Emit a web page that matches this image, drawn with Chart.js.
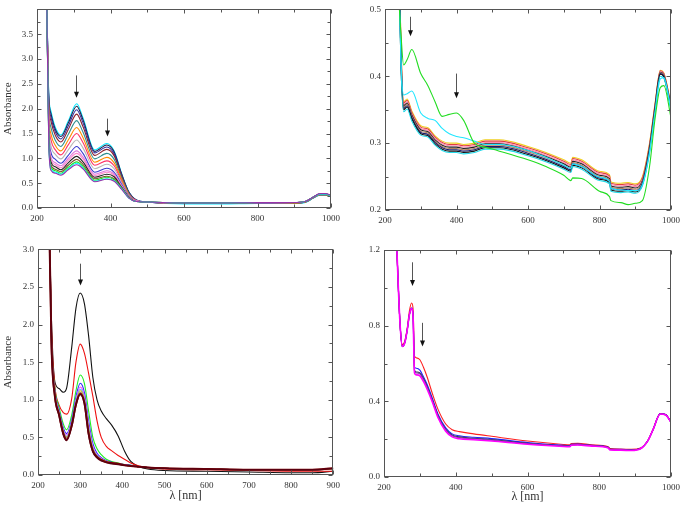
<!DOCTYPE html>
<html><head><meta charset="utf-8">
<script src="https://cdn.jsdelivr.net/npm/chart.js@4/dist/chart.umd.min.js"></script>
<style>
html,body{margin:0;padding:0;background:#fff;}
body{width:685px;height:512px;position:relative;overflow:hidden;}
canvas{position:absolute;}
</style></head><body>
<canvas id="c1" width="345" height="228" style="left:0;top:0"></canvas>
<canvas id="c2" width="343" height="228" style="left:342px;top:0"></canvas>
<canvas id="c3" width="345" height="272" style="left:0;top:240px"></canvas>
<canvas id="c4" width="343" height="272" style="left:342px;top:240px"></canvas>
<script>
// ---------- Panel 1 (top-left) ----------
const wl1 = [226, 232, 238, 250, 265, 285, 308, 325, 357, 390, 410, 430, 450, 470, 500, 600, 700, 800, 900, 930, 950, 970, 985, 1000];
const p1Series = [
  [4.5, 2.30, 1.95, 1.62, 1.47, 1.75, 2.10, 1.82, 1.17, 1.30, 1.15, 0.70, 0.32, 0.16, 0.12, 0.08, 0.08, 0.09, 0.09, 0.11, 0.19, 0.26, 0.26, 0.23],
  [4.5, 2.26, 1.90, 1.58, 1.44, 1.71, 2.05, 1.78, 1.14, 1.27, 1.13, 0.69, 0.32, 0.16, 0.12, 0.09, 0.09, 0.10, 0.10, 0.12, 0.20, 0.27, 0.27, 0.24],
  [4.5, 2.20, 1.83, 1.53, 1.39, 1.65, 1.98, 1.72, 1.11, 1.23, 1.09, 0.67, 0.31, 0.16, 0.12, 0.09, 0.09, 0.10, 0.10, 0.12, 0.20, 0.27, 0.27, 0.24],
  [4.5, 2.13, 1.75, 1.46, 1.33, 1.58, 1.89, 1.64, 1.06, 1.18, 1.05, 0.65, 0.30, 0.15, 0.12, 0.09, 0.09, 0.10, 0.10, 0.12, 0.20, 0.27, 0.27, 0.24],
  [4.5, 2.02, 1.62, 1.36, 1.24, 1.48, 1.76, 1.53, 0.99, 1.10, 0.98, 0.61, 0.29, 0.15, 0.12, 0.09, 0.09, 0.10, 0.10, 0.12, 0.20, 0.27, 0.27, 0.24],
  [4.5, 1.91, 1.49, 1.26, 1.15, 1.37, 1.62, 1.42, 0.92, 1.02, 0.91, 0.58, 0.27, 0.15, 0.12, 0.10, 0.10, 0.10, 0.10, 0.12, 0.20, 0.27, 0.27, 0.24],
  [4.5, 1.81, 1.37, 1.17, 1.07, 1.27, 1.50, 1.32, 0.86, 0.95, 0.85, 0.54, 0.26, 0.15, 0.12, 0.10, 0.10, 0.10, 0.11, 0.13, 0.21, 0.28, 0.28, 0.25],
  [4.5, 1.71, 1.25, 1.08, 0.99, 1.17, 1.37, 1.21, 0.79, 0.88, 0.79, 0.51, 0.25, 0.14, 0.12, 0.10, 0.10, 0.10, 0.11, 0.13, 0.21, 0.28, 0.28, 0.25],
  [4.5, 1.60, 1.12, 0.98, 0.90, 1.06, 1.24, 1.10, 0.72, 0.80, 0.72, 0.48, 0.24, 0.14, 0.12, 0.10, 0.10, 0.10, 0.11, 0.13, 0.21, 0.28, 0.28, 0.25],
  [4.5, 1.53, 1.03, 0.91, 0.85, 1.00, 1.15, 1.03, 0.68, 0.75, 0.68, 0.45, 0.23, 0.14, 0.12, 0.10, 0.10, 0.11, 0.11, 0.13, 0.21, 0.28, 0.28, 0.25],
  [4.5, 1.49, 0.99, 0.87, 0.81, 0.96, 1.10, 0.99, 0.65, 0.72, 0.66, 0.44, 0.22, 0.14, 0.12, 0.10, 0.10, 0.11, 0.11, 0.13, 0.21, 0.28, 0.28, 0.25],
  [4.5, 1.44, 0.93, 0.83, 0.77, 0.91, 1.04, 0.93, 0.62, 0.68, 0.63, 0.42, 0.22, 0.13, 0.12, 0.10, 0.10, 0.11, 0.11, 0.13, 0.21, 0.28, 0.28, 0.25],
  [4.5, 1.39, 0.87, 0.78, 0.73, 0.86, 0.98, 0.88, 0.59, 0.64, 0.59, 0.41, 0.21, 0.13, 0.12, 0.10, 0.10, 0.11, 0.11, 0.13, 0.21, 0.28, 0.28, 0.25],
  [4.5, 1.35, 0.82, 0.75, 0.70, 0.82, 0.93, 0.84, 0.56, 0.62, 0.57, 0.40, 0.21, 0.13, 0.12, 0.10, 0.10, 0.11, 0.11, 0.13, 0.21, 0.28, 0.28, 0.25],
  [4.5, 1.32, 0.78, 0.72, 0.68, 0.79, 0.90, 0.81, 0.54, 0.59, 0.55, 0.39, 0.20, 0.13, 0.12, 0.10, 0.10, 0.11, 0.11, 0.13, 0.21, 0.28, 0.28, 0.25],
  [4.5, 1.30, 0.76, 0.70, 0.66, 0.77, 0.87, 0.79, 0.53, 0.58, 0.54, 0.38, 0.20, 0.13, 0.12, 0.10, 0.10, 0.11, 0.11, 0.13, 0.21, 0.29, 0.29, 0.26]
];
const p1Colors = ['#00e8ff', '#202048', '#3030a0', '#8b2030', '#2f8f8f', '#ff8c00', '#ff3366', '#b8b8b8', '#3a3ad0', '#dd77dd', '#ff88cc', '#222222', '#7a5230', '#22dd22', '#00ffff', '#9933aa'];
const arrowX1 = [307, 391], arrowFrom1 = [2.67, 1.80], arrowTo1 = [2.22, 1.44];

// ---------- Panel 2 (top-right) ----------
const wl2 = [238, 245, 252, 262, 275, 300, 320, 340, 360, 380, 400, 420, 450, 480, 520, 600, 650, 700, 720, 725, 750, 800, 828, 832, 860, 880, 900, 920, 940, 955, 970, 980, 1000];
const p2Green = [0.52, 0.46, 0.417, 0.425, 0.440, 0.404, 0.386, 0.362, 0.340, 0.343, 0.345, 0.334, 0.300, 0.294, 0.288, 0.275, 0.265, 0.252, 0.244, 0.248, 0.247, 0.228, 0.220, 0.214, 0.211, 0.208, 0.210, 0.214, 0.265, 0.335, 0.383, 0.386, 0.338];
const p2Cyan = [0.56, 0.42, 0.372, 0.374, 0.378, 0.345, 0.337, 0.334, 0.322, 0.314, 0.310, 0.308, 0.303, 0.298, 0.298, 0.289, 0.279, 0.267, 0.262, 0.269, 0.265, 0.249, 0.243, 0.233, 0.230, 0.229, 0.229, 0.238, 0.285, 0.343, 0.396, 0.398, 0.350];
const p2Bundle = [
  [0.62, 0.44, 0.362, 0.366, 0.348, 0.326, 0.323, 0.311, 0.303, 0.300, 0.300, 0.298, 0.300, 0.305, 0.305, 0.295, 0.286, 0.275, 0.270, 0.279, 0.275, 0.258, 0.253, 0.242, 0.240, 0.241, 0.239, 0.250, 0.300, 0.358, 0.409, 0.405, 0.358],
  [0.61, 0.44, 0.360, 0.364, 0.346, 0.324, 0.321, 0.309, 0.301, 0.298, 0.298, 0.296, 0.298, 0.303, 0.303, 0.293, 0.284, 0.273, 0.268, 0.277, 0.273, 0.256, 0.251, 0.240, 0.238, 0.239, 0.237, 0.248, 0.298, 0.356, 0.408, 0.404, 0.357],
  [0.60, 0.43, 0.358, 0.362, 0.344, 0.322, 0.319, 0.307, 0.299, 0.296, 0.296, 0.294, 0.296, 0.301, 0.301, 0.291, 0.282, 0.271, 0.266, 0.275, 0.271, 0.254, 0.249, 0.238, 0.236, 0.237, 0.235, 0.246, 0.296, 0.355, 0.407, 0.403, 0.356],
  [0.60, 0.43, 0.356, 0.360, 0.342, 0.320, 0.317, 0.305, 0.297, 0.294, 0.294, 0.292, 0.294, 0.299, 0.299, 0.289, 0.280, 0.269, 0.264, 0.273, 0.269, 0.252, 0.247, 0.236, 0.234, 0.235, 0.233, 0.244, 0.295, 0.354, 0.406, 0.402, 0.355],
  [0.59, 0.42, 0.354, 0.358, 0.340, 0.318, 0.315, 0.303, 0.295, 0.292, 0.292, 0.290, 0.292, 0.297, 0.297, 0.287, 0.278, 0.267, 0.262, 0.271, 0.267, 0.250, 0.245, 0.234, 0.232, 0.233, 0.231, 0.242, 0.293, 0.352, 0.405, 0.401, 0.354],
  [0.59, 0.42, 0.352, 0.356, 0.338, 0.316, 0.313, 0.301, 0.293, 0.290, 0.290, 0.288, 0.290, 0.295, 0.295, 0.285, 0.276, 0.265, 0.260, 0.269, 0.265, 0.248, 0.243, 0.232, 0.230, 0.231, 0.229, 0.240, 0.291, 0.350, 0.404, 0.400, 0.353],
  [0.58, 0.41, 0.350, 0.354, 0.336, 0.314, 0.311, 0.299, 0.291, 0.288, 0.288, 0.286, 0.288, 0.293, 0.293, 0.283, 0.274, 0.263, 0.258, 0.267, 0.263, 0.246, 0.241, 0.230, 0.228, 0.229, 0.227, 0.238, 0.289, 0.348, 0.403, 0.399, 0.352],
  [0.58, 0.41, 0.347, 0.351, 0.333, 0.312, 0.309, 0.297, 0.289, 0.286, 0.286, 0.284, 0.286, 0.291, 0.291, 0.281, 0.272, 0.261, 0.256, 0.265, 0.261, 0.244, 0.239, 0.228, 0.226, 0.227, 0.225, 0.236, 0.287, 0.346, 0.400, 0.397, 0.350]
];
const p2BundleColors = ['#f0d020', '#e04040', '#ff88b0', '#222222', '#b08060', '#1a1a70', '#111111', '#22d8e8'];
const arrowX2 = [271, 398], arrowFrom2 = [0.489, 0.404], arrowTo2 = [0.46, 0.367];

// ---------- Panel 3 (bottom-left) ----------
const wl3 = [226, 232, 240, 250, 260, 268, 280, 290, 300, 310, 320, 330, 340, 350, 362, 375, 390, 405, 420, 440, 460, 500, 600, 700, 800, 850, 900];
const p3Series = [
  [3.6, 2.05, 1.24, 1.15, 1.10, 1.16, 1.70, 2.22, 2.42, 2.28, 1.85, 1.30, 1.00, 0.85, 0.75, 0.66, 0.52, 0.32, 0.18, 0.11, 0.08, 0.06, 0.05, 0.04, 0.03, 0.03, 0.05],
  [3.6, 1.92, 1.18, 0.93, 0.83, 0.81, 1.02, 1.50, 1.74, 1.62, 1.35, 1.05, 0.72, 0.50, 0.38, 0.32, 0.26, 0.21, 0.16, 0.12, 0.10, 0.08, 0.07, 0.06, 0.05, 0.05, 0.05],
  [3.6, 1.80, 1.15, 0.90, 0.68, 0.60, 0.80, 1.12, 1.33, 1.22, 0.85, 0.50, 0.35, 0.27, 0.21, 0.18, 0.16, 0.14, 0.13, 0.11, 0.10, 0.09, 0.08, 0.07, 0.07, 0.07, 0.08],
  [3.6, 1.78, 1.12, 0.86, 0.63, 0.55, 0.74, 1.04, 1.22, 1.10, 0.72, 0.42, 0.29, 0.23, 0.19, 0.17, 0.15, 0.14, 0.13, 0.11, 0.10, 0.09, 0.08, 0.07, 0.07, 0.07, 0.08],
  [3.6, 1.76, 1.10, 0.84, 0.60, 0.53, 0.71, 1.00, 1.17, 1.05, 0.67, 0.38, 0.27, 0.22, 0.18, 0.16, 0.15, 0.14, 0.12, 0.11, 0.10, 0.09, 0.08, 0.07, 0.07, 0.07, 0.08],
  [3.6, 1.75, 1.09, 0.83, 0.59, 0.51, 0.70, 0.98, 1.14, 1.02, 0.64, 0.36, 0.26, 0.21, 0.18, 0.16, 0.15, 0.13, 0.12, 0.11, 0.10, 0.09, 0.08, 0.07, 0.07, 0.07, 0.08],
  [3.6, 1.74, 1.08, 0.82, 0.58, 0.50, 0.68, 0.96, 1.12, 1.00, 0.61, 0.35, 0.25, 0.21, 0.18, 0.16, 0.15, 0.13, 0.12, 0.11, 0.10, 0.09, 0.08, 0.07, 0.07, 0.07, 0.08],
  [3.6, 1.73, 1.07, 0.81, 0.57, 0.49, 0.67, 0.95, 1.10, 0.98, 0.58, 0.34, 0.25, 0.20, 0.17, 0.16, 0.15, 0.13, 0.12, 0.11, 0.10, 0.09, 0.08, 0.07, 0.07, 0.07, 0.08],
  [3.6, 1.72, 1.05, 0.80, 0.55, 0.47, 0.66, 0.94, 1.08, 0.96, 0.55, 0.32, 0.24, 0.20, 0.17, 0.16, 0.15, 0.13, 0.12, 0.11, 0.10, 0.09, 0.08, 0.07, 0.07, 0.07, 0.09],
  [3.6, 1.71, 1.04, 0.79, 0.54, 0.46, 0.65, 0.93, 1.07, 0.95, 0.54, 0.31, 0.23, 0.19, 0.17, 0.15, 0.14, 0.13, 0.12, 0.11, 0.10, 0.09, 0.08, 0.07, 0.07, 0.07, 0.09]
];
const p3Colors = ['#111111', '#ee1111', '#22ee22', '#2a2aff', '#ff44ff', '#33ccff', '#ffaa00', '#888888', '#800000', '#5a0010'];
const arrowX3 = [299], arrowFrom3 = [2.81], arrowTo3 = [2.52];

// ---------- Panel 4 (bottom-right) ----------
const wl4 = [234, 240, 245, 251, 258, 265, 271, 277, 281, 285, 290, 300, 310, 320, 335, 350, 372, 390, 410, 450, 500, 600, 700, 718, 722, 740, 780, 825, 830, 860, 890, 915, 935, 950, 970, 985, 1000];
const p4Series = [
  [1.30, 1.00, 0.80, 0.70, 0.72, 0.79, 0.88, 0.92, 0.89, 0.64, 0.63, 0.62, 0.58, 0.53, 0.44, 0.36, 0.28, 0.25, 0.24, 0.228, 0.215, 0.190, 0.172, 0.170, 0.177, 0.178, 0.170, 0.160, 0.150, 0.148, 0.146, 0.153, 0.192, 0.252, 0.336, 0.331, 0.292],
  [1.30, 1.00, 0.80, 0.69, 0.71, 0.78, 0.86, 0.895, 0.86, 0.58, 0.575, 0.565, 0.53, 0.49, 0.415, 0.335, 0.26, 0.228, 0.218, 0.210, 0.203, 0.182, 0.167, 0.166, 0.173, 0.174, 0.167, 0.157, 0.147, 0.146, 0.144, 0.151, 0.191, 0.251, 0.335, 0.330, 0.291],
  [1.30, 1.00, 0.80, 0.69, 0.71, 0.78, 0.86, 0.89, 0.85, 0.565, 0.555, 0.55, 0.52, 0.48, 0.405, 0.328, 0.252, 0.222, 0.212, 0.205, 0.198, 0.178, 0.165, 0.164, 0.171, 0.172, 0.166, 0.156, 0.146, 0.145, 0.143, 0.150, 0.190, 0.250, 0.334, 0.329, 0.290],
  [1.30, 1.00, 0.80, 0.69, 0.71, 0.78, 0.86, 0.89, 0.85, 0.56, 0.55, 0.545, 0.515, 0.475, 0.402, 0.324, 0.248, 0.218, 0.208, 0.202, 0.195, 0.176, 0.164, 0.163, 0.170, 0.171, 0.165, 0.155, 0.145, 0.144, 0.142, 0.150, 0.190, 0.250, 0.333, 0.328, 0.290],
  [1.30, 1.00, 0.80, 0.69, 0.71, 0.78, 0.86, 0.89, 0.85, 0.55, 0.54, 0.535, 0.505, 0.465, 0.395, 0.316, 0.242, 0.212, 0.202, 0.197, 0.190, 0.173, 0.161, 0.160, 0.168, 0.169, 0.163, 0.153, 0.143, 0.142, 0.140, 0.149, 0.190, 0.250, 0.333, 0.328, 0.290]
];
const p4Colors = ['#ff2020', '#2020ff', '#333355', '#7a3aa0', '#ff00ff'];
const arrowX4 = [277.6, 306], arrowFrom4 = [1.135, 0.815], arrowTo4 = [1.01, 0.69];

// ---------- drawing ----------
const FONT = "'Liberation Serif', 'Times New Roman', serif";
const near = (v, m) => Math.abs(v / m - Math.round(v / m)) < 1e-6;

function framePlugin(ax, af, at) {
  return {
    id: 'frame',
    afterDatasetsDraw(chart) {
      const {ctx, chartArea: a, scales: {x, y}} = chart;
      ctx.save();
      ctx.strokeStyle = '#555';
      ctx.lineWidth = 1;
      const L = Math.round(a.left) + 0.5, R = Math.round(a.right) - 0.5;
      const T = Math.round(a.top) + 0.5, B = Math.round(a.bottom) - 0.5;
      ctx.strokeRect(L, T, R - L, B - T);
      ctx.beginPath();
      x.ticks.forEach(t => {
        const p = Math.round(x.getPixelForValue(t.value)) + 0.5;
        const len = t.label ? 4 : 3;
        ctx.moveTo(p, B); ctx.lineTo(p, B - len);
        ctx.moveTo(p, T); ctx.lineTo(p, T + len);
      });
      y.ticks.forEach(t => {
        const p = Math.round(y.getPixelForValue(t.value)) + 0.5;
        const len = t.label ? 4 : 3;
        ctx.moveTo(L, p); ctx.lineTo(L + len, p);
        ctx.moveTo(R, p); ctx.lineTo(R - len, p);
      });
      ctx.stroke();
      ax.forEach((v, i) => {
        const px = Math.round(x.getPixelForValue(v)) + 0.5;
        const y1 = y.getPixelForValue(af[i]);
        const y2 = y.getPixelForValue(at[i]);
        ctx.strokeStyle = '#555';
        ctx.beginPath(); ctx.moveTo(px, y1); ctx.lineTo(px, y2 - 5); ctx.stroke();
        ctx.fillStyle = '#111';
        ctx.beginPath(); ctx.moveTo(px - 2.5, y2 - 6); ctx.lineTo(px + 2.5, y2 - 6); ctx.lineTo(px, y2); ctx.closePath(); ctx.fill();
      });
      ctx.restore();
    }
  };
}

function makeChart(id, cfg) {
  const n = cfg.series.length;
  const datasets = cfg.series.map((s, i) => ({
    data: cfg.wl.map((w, j) => ({x: w, y: s[j]})),
    borderColor: cfg.colors[i],
    borderWidth: (cfg.widths && cfg.widths[i]) || 1.1,
    pointRadius: 0,
    fill: false,
    order: n - i,
    cubicInterpolationMode: 'monotone'
  }));
  const tickFont = {family: FONT, size: 9};
  new Chart(document.getElementById(id), {
    type: 'line',
    data: {datasets},
    options: {
      responsive: false,
      animation: false,
      events: [],
      layout: {padding: cfg.pad},
      plugins: {legend: {display: false}, tooltip: {enabled: false}},
      scales: {
        x: {
          type: 'linear', min: cfg.xMin, max: cfg.xMax,
          grid: {display: false, drawTicks: false}, border: {display: false},
          ticks: {stepSize: cfg.xStep, autoSkip: false, maxRotation: 0, padding: 5, font: tickFont, color: '#333',
            callback: v => near(v, cfg.xLab) ? String(Math.round(v)) : ''},
          title: cfg.xTitle ? {display: true, text: 'λ [nm]', font: {family: FONT, size: 12}, color: '#333', padding: {top: 0, bottom: cfg.xTitlePad}} : {display: false},
          afterFit: s => { s.height = cfg.xH; }
        },
        y: {
          type: 'linear', min: cfg.yMin, max: cfg.yMax,
          grid: {display: false, drawTicks: false}, border: {display: false},
          ticks: {stepSize: cfg.yStep, autoSkip: false, padding: 4, font: tickFont, color: '#333',
            callback: v => (near(v, cfg.yLab) && v < cfg.yHideAbove) ? v.toFixed(1) : ''},
          title: cfg.yTitle ? {display: true, text: 'Absorbance', font: {family: FONT, size: 11}, color: '#333', padding: {top: 2, bottom: 0}} : {display: false},
          afterFit: s => { s.width = cfg.yW; }
        }
      }
    },
    plugins: [framePlugin(cfg.ax, cfg.af, cfg.at)]
  });
}

makeChart('c1', {wl: wl1, series: p1Series, colors: p1Colors,
  pad: {left: 0, top: 1, right: 13, bottom: 0}, xMin: 200, xMax: 1000, xStep: 100, xLab: 200, xH: 20,
  yMin: 0, yMax: 4, yStep: 0.25, yLab: 0.5, yHideAbove: 3.9, yW: 37, yTitle: true,
  ax: arrowX1, af: arrowFrom1, at: arrowTo1});

makeChart('c2', {wl: wl2, series: [...p2Bundle, p2Cyan, p2Green], colors: [...p2BundleColors, '#22e6ff', '#22dd22'],
  pad: {left: 0, top: 4, right: 14, bottom: 0}, xMin: 200, xMax: 1000, xStep: 100, xLab: 200, xH: 18,
  yMin: 0.2, yMax: 0.5, yStep: 0.05, yLab: 0.1, yHideAbove: 9, yW: 43, yTitle: false,
  ax: arrowX2, af: arrowFrom2, at: arrowTo2});

makeChart('c3', {wl: wl3, series: p3Series, colors: p3Colors, widths: [1.1, 1.1, 1.1, 1.1, 1.1, 1.1, 1.1, 1.1, 2, 1.6],
  pad: {left: 0, top: 7, right: 10, bottom: 0}, xMin: 200, xMax: 900, xStep: 50, xLab: 100, xH: 37, xTitle: true, xTitlePad: 9,
  yMin: 0, yMax: 3, yStep: 0.25, yLab: 0.5, yHideAbove: 9, yW: 38, yTitle: true,
  ax: arrowX3, af: arrowFrom3, at: arrowTo3});

makeChart('c4', {wl: wl4, series: p4Series, colors: p4Colors, widths: [1.1, 1.1, 1.1, 1.1, 1.6],
  pad: {left: 0, top: 10, right: 9, bottom: 0}, xMin: 200, xMax: 1000, xStep: 100, xLab: 200, xH: 35, xTitle: true, xTitlePad: 8,
  yMin: 0, yMax: 1.2, yStep: 0.2, yLab: 0.4, yHideAbove: 9, yW: 42, yTitle: false,
  ax: arrowX4, af: arrowFrom4, at: arrowTo4});
</script>
</body></html>
